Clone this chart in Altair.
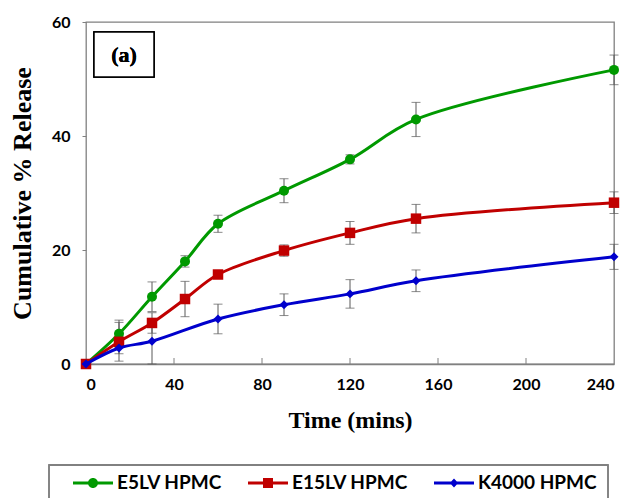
import altair as alt
import pandas as pd

# ---- data ----
names = ["E5LV HPMC", "E15LV HPMC", "K4000 HPMC"]
colors = ["#009900", "#c00000", "#0000cc"]

t_e5 = [0, 15, 30, 45, 60, 90, 120, 150, 240]
e5 = [0, 5.3, 11.8, 18.0, 24.6, 30.4, 35.9, 42.9, 51.6]
e5_err = [0.3, 2.4, 2.6, 1.0, 1.5, 2.1, 0.8, 3.0, 2.6]

t_e15 = [0, 15, 30, 45, 60, 90, 120, 150, 240]
e15 = [0, 3.9, 7.2, 11.4, 15.7, 19.9, 23.0, 25.5, 28.3]
e15_err = [0.2, 3.4, 1.8, 3.1, 0.6, 1.0, 2.0, 2.5, 1.9]

t_k4 = [0, 15, 30, 60, 90, 120, 150, 240]
k4 = [0, 2.8, 4.0, 7.9, 10.4, 12.3, 14.6, 18.8]
k4_err = [0.2, 1.0, 4.0, 2.6, 1.9, 2.5, 1.9, 2.2]

x_ticks = [0, 40, 80, 120, 160, 200, 240]
y_ticks = [0, 20, 40, 60]

# ---- tables ----
def frame(name, t, v, e):
    return pd.DataFrame({"series": name, "time": t, "value": v,
                         "lo": [a - b for a, b in zip(v, e)],
                         "hi": [a + b for a, b in zip(v, e)]})

dfs = [frame(names[0], t_e5, e5, e5_err),
       frame(names[1], t_e15, e15, e15_err),
       frame(names[2], t_k4, k4, k4_err)]
alldf = pd.concat(dfs, ignore_index=True)

W, H = 528, 342
xs = alt.Scale(domain=[0, 240], nice=False)
ys = alt.Scale(domain=[0, 60], nice=False)

x_enc = alt.X("time:Q", scale=xs,
              axis=alt.Axis(values=x_ticks, title="Time (mins)", ticks=False,
                            grid=False, domainColor="#808080", domainWidth=1.3,
                            labelFont="Lato", labelFontWeight="bold", labelFontSize=16,
                            labelColor="black", labelPadding=12,
                            titleFont="Liberation Serif", titleFontWeight="bold",
                            titleFontSize=24, titleColor="black", titlePadding=16))
y_enc = alt.Y("value:Q", scale=ys,
              axis=alt.Axis(values=y_ticks, title="Cumulative % Release", grid=False,
                            domain=False, tickSize=4, tickColor="#808080",
                            labelFont="Lato", labelFontWeight="bold", labelFontSize=16,
                            labelColor="black", labelPadding=12,
                            titleFont="Liberation Serif", titleFontWeight="bold",
                            titleFontSize=26, titleColor="black", titlePadding=16))

layers = []
shapes = ["circle", "square", "diamond"]
sizes = [100, 110, 80]

# error bars
err = alt.Chart(alldf)
layers.append(err.mark_rule(color="#595959", strokeWidth=1).encode(
    x=alt.X("time:Q", scale=xs), y=alt.Y("lo:Q", scale=ys), y2="hi:Q"))
layers.append(err.mark_tick(color="#595959", orient="horizontal", size=9, thickness=1).encode(
    x=alt.X("time:Q", scale=xs), y=alt.Y("lo:Q", scale=ys)))
layers.append(err.mark_tick(color="#595959", orient="horizontal", size=9, thickness=1).encode(
    x=alt.X("time:Q", scale=xs), y=alt.Y("hi:Q", scale=ys)))

for i, d in enumerate(dfs):
    base = alt.Chart(d)
    layers.append(base.mark_line(color=colors[i], strokeWidth=3, interpolate="catmull-rom").encode(
        x=x_enc if i == 0 else alt.X("time:Q", scale=xs), y=y_enc if i == 0 else alt.Y("value:Q", scale=ys)))
    layers.append(base.mark_point(shape=shapes[i], filled=True, opacity=1, size=sizes[i],
                                  color=colors[i]).encode(
        x=alt.X("time:Q", scale=xs), y=alt.Y("value:Q", scale=ys)))

# inside tick marks on the x axis
tick_df = pd.DataFrame({"time": x_ticks[1:-1]})
layers.append(alt.Chart(tick_df).mark_rule(color="#808080", strokeWidth=1).encode(
    x=alt.X("time:Q", scale=xs), y=alt.value(H), y2=alt.value(H - 6)))

# legend (symbols = line with marker), symbol box 20px -> 10px per path unit
s = 0.14
L = 2.0
paths = [
    f"M-{L},-{s}H{L}V{s}H-{L}Z M0.5,0A0.5,0.5,0,1,1,-0.5,0A0.5,0.5,0,1,1,0.5,0Z",
    f"M-{L},-{s}H{L}V{s}H-{L}Z M-0.5,-0.5H0.5V0.5H-0.5Z",
    f"M-{L},-{s}H{L}V{s}H-{L}Z M0,-0.45L0.42,0L0,0.45L-0.42,0Z",
]
leg_df = pd.DataFrame({"series": names})
legend = alt.Legend(title=None, orient="none", direction="horizontal",
                    legendX=-3, legendY=451, symbolSize=400, symbolStrokeWidth=0,
                    symbolOpacity=1, labelFont="Lato", labelFontWeight="bold",
                    labelFontSize=19, labelColor="black", labelOffset=14,
                    columnPadding=26, padding=0)
layers.append(alt.Chart(leg_df).mark_point(filled=True, opacity=1).encode(
    x=alt.value(-2000), y=alt.value(-2000),
    color=alt.Color("series:N", scale=alt.Scale(domain=names, range=colors), legend=legend),
    shape=alt.Shape("series:N", scale=alt.Scale(domain=names, range=paths), legend=legend)))

# legend frame
layers.append(alt.Chart(leg_df).mark_rect(fill=None, stroke="#808080", strokeWidth=1.3).encode(
    x=alt.value(49 - 86), x2=alt.value(608 - 86), y=alt.value(465 - 22), y2=alt.value(520)))

# (a) label box
layers.append(alt.Chart(leg_df).mark_rect(fill="white", stroke="black", strokeWidth=1.5).encode(
    x=alt.value(8), x2=alt.value(68), y=alt.value(10), y2=alt.value(55)))
layers.append(alt.Chart(leg_df).mark_text(text="(a)", font="Liberation Serif", fontWeight="bold",
                                          fontSize=22, color="black", align="center",
                                          baseline="middle").encode(
    x=alt.value(38), y=alt.value(33)))

chart = alt.layer(*layers).properties(
    width=W, height=H,
    autosize=alt.AutoSizeParams(type="none"),
    padding={"left": 78, "top": 14, "right": 8, "bottom": 134},
).configure_view(stroke="#808080", strokeWidth=1.3)

chart.save("out.html", embed_options={"renderer": "svg", "actions": False})
